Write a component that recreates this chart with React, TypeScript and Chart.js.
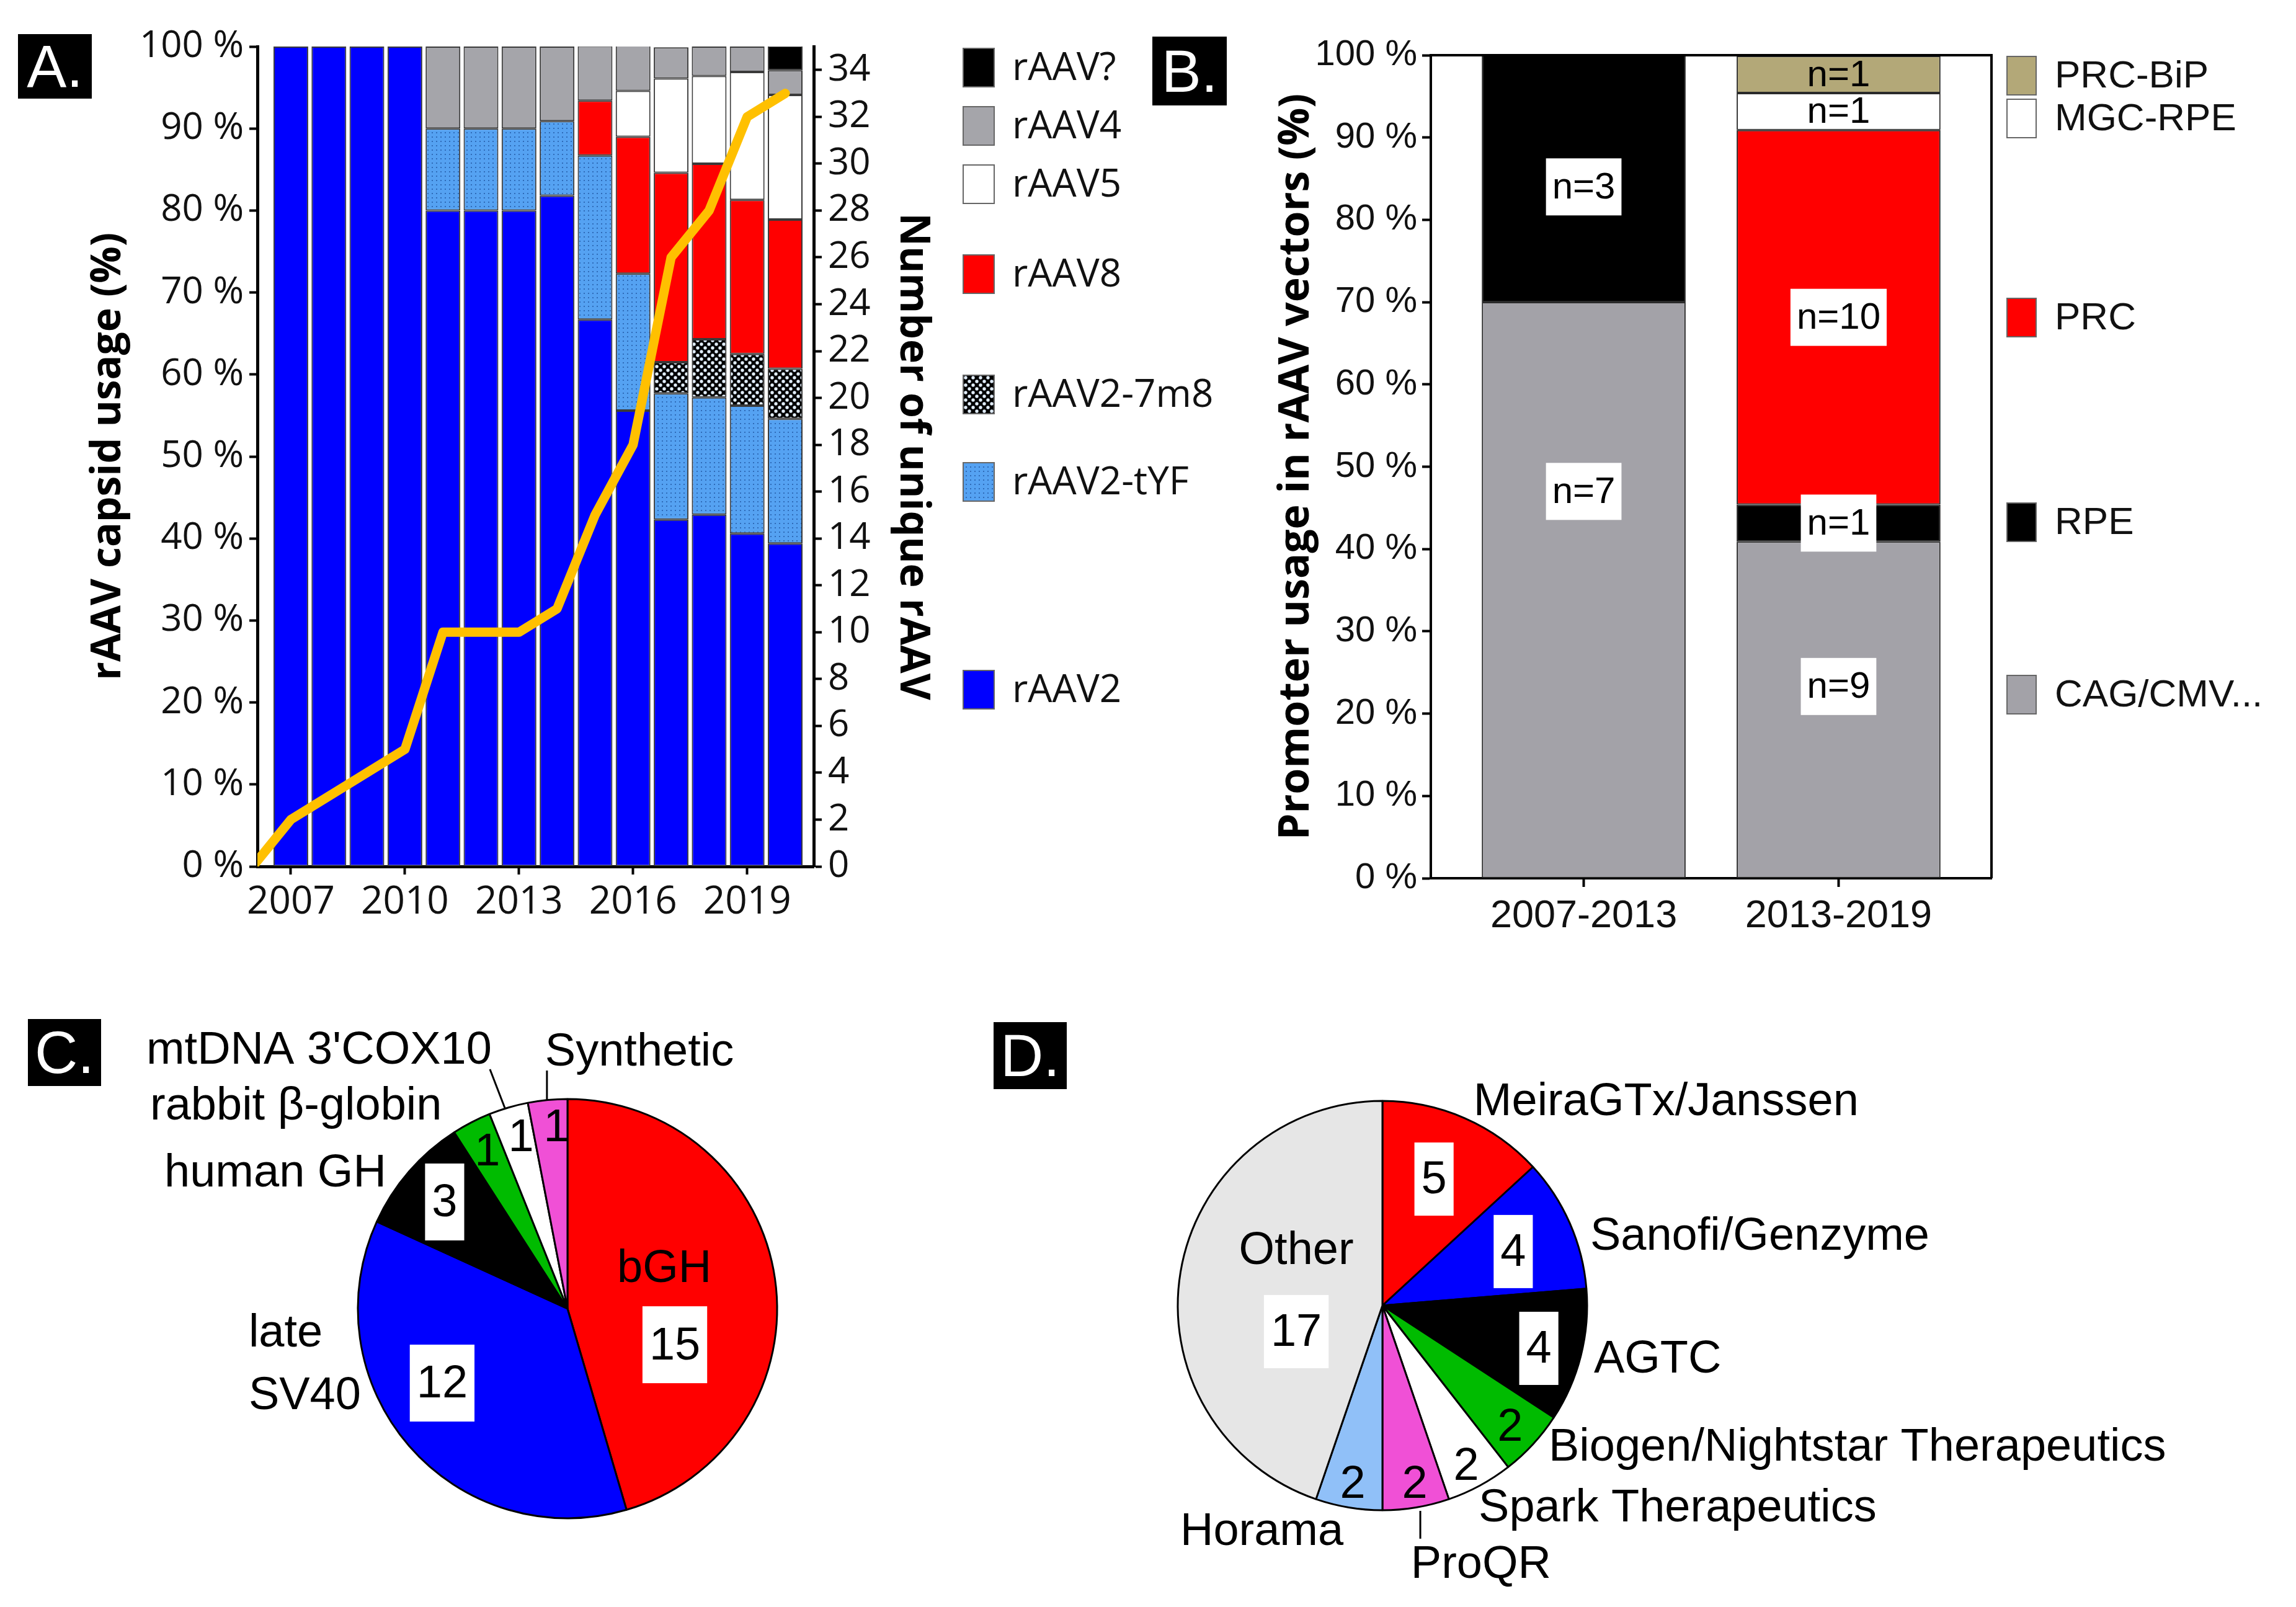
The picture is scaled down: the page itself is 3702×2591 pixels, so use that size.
import React, { useEffect, useRef } from 'react';
import { Chart, registerables } from 'chart.js';

Chart.register(...registerables);

// ---------------- Panel A data ----------------
const YEARS = [2007, 2008, 2009, 2010, 2011, 2012, 2013, 2014, 2015, 2016, 2017, 2018, 2019, 2020];
const RAAV2 = [100, 100, 100, 100, 80, 80, 80, 81.8, 66.7, 55.6, 42.3, 42.9, 40.6, 39.4];
const RAAV2_TYF = [0, 0, 0, 0, 10, 10, 10, 9.1, 20, 16.7, 15.4, 14.3, 15.6, 15.2];
const RAAV2_7M8 = [0, 0, 0, 0, 0, 0, 0, 0, 0, 0, 3.8, 7.1, 6.3, 6.1];
const RAAV8 = [0, 0, 0, 0, 0, 0, 0, 0, 6.7, 16.7, 23.1, 21.4, 18.8, 18.2];
const RAAV5 = [0, 0, 0, 0, 0, 0, 0, 0, 0, 5.6, 11.5, 10.7, 15.6, 15.2];
const RAAV4 = [0, 0, 0, 0, 10, 10, 10, 9.1, 6.7, 5.6, 3.8, 3.6, 3.1, 3.0];
const RAAV_UNKNOWN = [0, 0, 0, 0, 0, 0, 0, 0, 0, 0, 0, 0, 0, 3.0];
const COUNT_YEARS = [2006, 2007, 2008, 2009, 2010, 2011, 2012, 2013, 2014, 2015, 2016, 2017, 2018, 2019, 2020];
const UNIQUE_RAAV = [0, 2, 3, 4, 5, 10, 10, 10, 11, 15, 18, 26, 28, 32, 33];
const A_X_TICKS = [2007, 2010, 2013, 2016, 2019];
const A_Y2_TICKS = [0, 2, 4, 6, 8, 10, 12, 14, 16, 18, 20, 22, 24, 26, 28, 30, 32, 34];

// ---------------- Panel B data ----------------
const PERIODS = ['2007-2013', '2013-2019'];
const B_CAG_CMV = [70, 40.9];
const B_RPE = [30, 4.5];
const B_PRC = [0, 45.5];
const B_MGC_RPE = [0, 4.5];
const B_PRC_BIP = [0, 4.5];
const B_N_CAG = [7, 9];
const B_N_RPE = [3, 1];
const B_N_PRC = [0, 10];
const B_N_MGC = [0, 1];
const B_N_BIP = [0, 1];

// ---------------- Panel C data ----------------
const C_LABELS = ['bGH', 'late SV40', 'human GH', 'rabbit \u03b2-globin', "mtDNA 3'COX10", 'Synthetic'];
const C_VALUES = [15, 12, 3, 1, 1, 1];

// ---------------- Panel D data ----------------
const D_LABELS = ['MeiraGTx/Janssen', 'Sanofi/Genzyme', 'AGTC', 'Biogen/Nightstar Therapeutics', 'Spark Therapeutics', 'ProQR', 'Horama', 'Other'];
const D_VALUES = [5, 4, 4, 2, 2, 2, 2, 17];

// ---------------- styles / layout ----------------
const FONT_A = '"Open Sans", "DejaVu Sans", sans-serif';
const FONT_B = '"Liberation Sans", Arial, sans-serif';

const C_COLORS = ['#FF0000', '#0000FF', '#000000', '#00BB00', '#FFFFFF', '#F050D6'];
const D_COLORS = ['#FF0000', '#0000FF', '#000000', '#00BB00', '#FFFFFF', '#F050D6', '#90C0F8', '#E6E6E6'];

const A_LEGEND_Y = [109, 203, 297, 442, 636, 777, 1112];
const B_LEGEND_Y = [122, 191, 512, 842, 1120];

const C_INNER = [
  { dx: 0.512, dy: 0.172, boxed: true },
  { dx: -0.598, dy: 0.355, boxed: true },
  { dx: -0.586, dy: -0.509, boxed: true },
  { dx: -0.382, dy: -0.754, boxed: false },
  { dx: -0.222, dy: -0.82, boxed: false },
  { dx: -0.053, dy: -0.867, boxed: false },
];
const C_OUTER = [
  { dx: 0.462, dy: -0.189, align: 'center', wrap: false },
  { dx: -1.521, dy: 0.121, align: 'left', wrap: true },
  { dx: -1.923, dy: -0.642, align: 'left', wrap: false },
  { dx: -1.991, dy: -0.962, align: 'left', wrap: false },
  { dx: -2.009, dy: -1.228, align: 'left', wrap: false },
  { dx: -0.107, dy: -1.219, align: 'left', wrap: false },
];
const C_LEADERS = [
  [-0.37, -1.142, -0.299, -0.958],
  [-0.098, -1.136, -0.098, -0.991],
];

const D_INNER = [
  { dx: 0.252, dy: -0.618, boxed: true },
  { dx: 0.639, dy: -0.264, boxed: true },
  { dx: 0.764, dy: 0.209, boxed: true },
  { dx: 0.624, dy: 0.591, boxed: false },
  { dx: 0.409, dy: 0.782, boxed: false },
  { dx: 0.158, dy: 0.867, boxed: false },
  { dx: -0.145, dy: 0.867, boxed: false },
  { dx: -0.421, dy: 0.127, boxed: true },
];
const D_OUTER = [
  { dx: 0.445, dy: -0.991, align: 'left', wrap: false },
  { dx: 1.015, dy: -0.336, align: 'left', wrap: false },
  { dx: 1.033, dy: 0.264, align: 'left', wrap: false },
  { dx: 0.812, dy: 0.697, align: 'left', wrap: false },
  { dx: 0.47, dy: 0.994, align: 'left', wrap: false },
  { dx: 0.139, dy: 1.267, align: 'left', wrap: false },
  { dx: -0.988, dy: 1.109, align: 'left', wrap: false },
  { dx: -0.421, dy: -0.264, align: 'center', wrap: false },
];
const D_LEADERS = [[0.185, 1.003, 0.185, 1.139]];

const PANEL_TAGS = [
  { t: 'A.', left: 29, top: 55, w: 119, h: 104 },
  { t: 'B.', left: 1858, top: 59, w: 120, h: 111 },
  { t: 'C.', left: 45, top: 1643, w: 118, h: 108 },
  { t: 'D.', left: 1602, top: 1648, w: 118, h: 108 },
];

function dotPattern(): CanvasPattern | string {
  const c = document.createElement('canvas');
  c.width = 7; c.height = 7;
  const g = c.getContext('2d');
  if (!g) return '#55A2F2';
  g.fillStyle = '#55A2F2'; g.fillRect(0, 0, 7, 7);
  g.fillStyle = '#2F6BB8'; g.fillRect(3, 3, 2, 2);
  return g.createPattern(c, 'repeat') || '#55A2F2';
}
function checkPattern(): CanvasPattern | string {
  const c = document.createElement('canvas');
  c.width = 12; c.height = 12;
  const g = c.getContext('2d');
  if (!g) return '#000';
  g.fillStyle = '#000'; g.fillRect(0, 0, 12, 12);
  g.fillStyle = '#E2EEFF';
  [[3, 3], [9, 9]].forEach(([x, y]) => { g.beginPath(); g.arc(x, y, 2.7, 0, Math.PI * 2); g.fill(); });
  return g.createPattern(c, 'repeat') || '#000';
}
const nz = (v: number) => (v === 0 ? null : v);

function makeA(): any {
  const tyf = dotPattern();
  const m78 = checkPattern();
  const series = [
    { label: 'rAAV2', data: RAAV2, bg: '#0000FF' },
    { label: 'rAAV2-tYF', data: RAAV2_TYF, bg: tyf },
    { label: 'rAAV2-7m8', data: RAAV2_7M8, bg: m78 },
    { label: 'rAAV8', data: RAAV8, bg: '#FF0000' },
    { label: 'rAAV5', data: RAAV5, bg: '#FFFFFF' },
    { label: 'rAAV4', data: RAAV4, bg: '#A5A5AA' },
    { label: 'rAAV?', data: RAAV_UNKNOWN, bg: '#000000' },
  ];
  const legendOrder = [6, 5, 4, 3, 2, 1, 0];
  const axisCommon = {
    grid: { drawOnChartArea: false, offset: false, tickLength: 13, tickWidth: 4, tickColor: '#000' },
    border: { color: '#000', width: 5 },
  };
  const legendPlugin = {
    id: 'legendA',
    afterDraw(chart: any) {
      const ctx = chart.ctx;
      ctx.save();
      ctx.font = `62px ${FONT_A}`;
      ctx.textBaseline = 'middle';
      ctx.textAlign = 'left';
      legendOrder.forEach((si, k) => {
        const y = A_LEGEND_Y[k];
        ctx.fillStyle = series[si].bg;
        ctx.fillRect(1553, y - 31, 50, 62);
        ctx.strokeStyle = '#666';
        ctx.lineWidth = 2;
        ctx.strokeRect(1553, y - 31, 50, 62);
        ctx.fillStyle = '#111';
        ctx.fillText(series[si].label, 1632, y + 2);
      });
      ctx.restore();
    },
  };
  return {
    data: {
      datasets: [
        {
          type: 'line', label: 'Number of unique rAAV',
          data: COUNT_YEARS.map((x, i) => ({ x, y: UNIQUE_RAAV[i] })),
          yAxisID: 'y2', borderColor: '#FFC000', borderWidth: 15, pointRadius: 0,
          tension: 0, fill: false, order: 0, borderJoinStyle: 'round', borderCapStyle: 'round',
        },
        ...series.map((s) => ({
          type: 'bar', label: s.label,
          data: YEARS.map((x, i) => ({ x, y: nz(s.data[i]) })),
          backgroundColor: s.bg, borderColor: '#3a3a3a', borderWidth: 2, borderSkipped: false,
          barPercentage: 0.913, categoryPercentage: 1, stack: 'a', yAxisID: 'y', order: 1,
        })),
      ],
    },
    options: {
      animation: false, responsive: false, devicePixelRatio: 1,
      layout: { padding: { top: 75, right: 480, left: 0, bottom: 0 } },
      plugins: { legend: { display: false }, tooltip: { enabled: false } },
      scales: {
        x: {
          type: 'linear', min: 2006.12, max: 2020.75, stacked: true, offset: false,
          afterBuildTicks: (s: any) => { s.ticks = A_X_TICKS.map((v) => ({ value: v })); },
          afterFit: (s: any) => { s.height = 143; },
          ticks: { font: { family: FONT_A, size: 62 }, color: '#111', padding: 8, maxRotation: 0, autoSkip: false, callback: (v: any) => String(v) },
          ...axisCommon,
        },
        y: {
          type: 'linear', position: 'left', min: 0, max: 100, stacked: true,
          afterFit: (s: any) => { s.width = 415; },
          ticks: { stepSize: 10, font: { family: FONT_A, size: 60 }, color: '#111', padding: 9, callback: (v: any) => `${v} %` },
          title: { display: true, text: 'rAAV capsid usage (%)', color: '#000', font: { family: FONT_A, size: 66, weight: 'bold' }, padding: { top: 136, bottom: 0 } },
          ...axisCommon,
        },
        y2: {
          type: 'linear', position: 'right', min: 0, max: 35,
          afterBuildTicks: (s: any) => { s.ticks = A_Y2_TICKS.map((v) => ({ value: v })); },
          afterFit: (s: any) => { s.width = 198; },
          ticks: { font: { family: FONT_A, size: 60 }, color: '#111', padding: 10 },
          title: { display: true, text: 'Number of unique rAAV', color: '#000', font: { family: FONT_A, size: 66, weight: 'bold' }, padding: { top: 0, bottom: 0 } },
          ...axisCommon,
        },
      },
    },
    plugins: [legendPlugin],
  };
}

function makeB(): any {
  const series = [
    { label: 'CAG/CMV...', data: B_CAG_CMV, n: B_N_CAG, bg: '#A3A2A8', boxed: true },
    { label: 'RPE', data: B_RPE, n: B_N_RPE, bg: '#000000', boxed: true },
    { label: 'PRC', data: B_PRC, n: B_N_PRC, bg: '#FF0000', boxed: true },
    { label: 'MGC-RPE', data: B_MGC_RPE, n: B_N_MGC, bg: '#FFFFFF', boxed: false },
    { label: 'PRC-BiP', data: B_PRC_BIP, n: B_N_BIP, bg: '#B3A878', boxed: false },
  ];
  const labelAt: Record<string, number> = { '0,0': 47, '0,1': 23.3, '1,0': 84 };
  const legendOrder = [4, 3, 2, 1, 0];
  const plugin = {
    id: 'bExtras',
    afterDatasetsDraw(chart: any) {
      const ctx = chart.ctx;
      const yS = chart.scales.y;
      ctx.save();
      ctx.font = `60px ${FONT_B}`;
      ctx.textBaseline = 'middle';
      ctx.textAlign = 'center';
      series.forEach((s, di) => {
        const meta = chart.getDatasetMeta(di);
        s.n.forEach((n, j) => {
          if (!n) return;
          const el = meta.data[j];
          const key = `${di},${j}`;
          const y = labelAt[key] !== undefined ? yS.getPixelForValue(labelAt[key]) : (el.y + el.base) / 2;
          const t = `n=${n}`;
          if (s.boxed) {
            const w = ctx.measureText(t).width + 20;
            ctx.fillStyle = '#fff';
            ctx.fillRect(el.x - w / 2, y - 46, w, 92);
          }
          ctx.fillStyle = '#000';
          ctx.fillText(t, el.x, y + 2);
        });
      });
      ctx.restore();
    },
    afterDraw(chart: any) {
      const ctx = chart.ctx;
      const a = chart.chartArea;
      ctx.save();
      ctx.strokeStyle = '#000';
      ctx.lineWidth = 4;
      ctx.beginPath();
      ctx.moveTo(a.left, a.top); ctx.lineTo(a.right, a.top); ctx.lineTo(a.right, a.bottom);
      ctx.stroke();
      ctx.font = `62px ${FONT_B}`;
      ctx.textBaseline = 'middle';
      ctx.textAlign = 'left';
      legendOrder.forEach((si, k) => {
        const y = B_LEGEND_Y[k];
        ctx.fillStyle = series[si].bg;
        ctx.fillRect(1236, y - 31, 47, 62);
        ctx.strokeStyle = '#666';
        ctx.lineWidth = 2;
        ctx.strokeRect(1236, y - 31, 47, 62);
        ctx.fillStyle = '#111';
        ctx.fillText(series[si].label, 1313, y + 2);
      });
      ctx.restore();
    },
  };
  const axisCommon = {
    grid: { drawOnChartArea: false, offset: false, tickLength: 14, tickWidth: 4, tickColor: '#000' },
    border: { color: '#000', width: 4 },
  };
  return {
    type: 'bar',
    data: {
      datasets: series.map((s) => ({
        label: s.label,
        data: PERIODS.map((_, i) => ({ x: i, y: nz(s.data[i]) })),
        backgroundColor: s.bg, borderColor: '#2a2a2a', borderWidth: 2, borderSkipped: false,
        barPercentage: 0.8, categoryPercentage: 1, stack: 'b',
      })),
    },
    options: {
      animation: false, responsive: false, devicePixelRatio: 1,
      layout: { padding: { top: 89, right: 491, left: 0, bottom: 0 } },
      plugins: { legend: { display: false }, tooltip: { enabled: false } },
      scales: {
        x: {
          type: 'linear', min: -0.6, max: 1.6, stacked: true, offset: false,
          afterBuildTicks: (s: any) => { s.ticks = PERIODS.map((_, i) => ({ value: i })); },
          afterFit: (s: any) => { s.height = 144; },
          ticks: { font: { family: FONT_B, size: 63 }, color: '#111', padding: 10, maxRotation: 0, autoSkip: false, callback: (v: any) => PERIODS[Math.round(Number(v))] ?? '' },
          ...axisCommon,
        },
        y: {
          type: 'linear', position: 'left', min: 0, max: 100, stacked: true,
          afterFit: (s: any) => { s.width = 307; },
          ticks: { stepSize: 10, font: { family: FONT_B, size: 58 }, color: '#111', padding: 8, callback: (v: any) => `${v} %` },
          title: { display: true, text: 'Promoter usage in rAAV vectors (%)', color: '#000', font: { family: FONT_A, size: 68, weight: 'bold' }, padding: { top: 50, bottom: 0 } },
          ...axisCommon,
        },
      },
    },
    plugins: [plugin],
  };
}

function makePie(values: number[], labels: string[], colors: string[], inner: any[], outer: any[], leaders: number[][], pad: any, boxH: number): any {
  const plugin = {
    id: 'pieText',
    afterDatasetsDraw(chart: any) {
      const arc = chart.getDatasetMeta(0).data[0];
      const cx = arc.x, cy = arc.y, r = arc.outerRadius;
      const ctx = chart.ctx;
      ctx.save();
      ctx.strokeStyle = '#000';
      ctx.lineWidth = 3;
      leaders.forEach(([x1, y1, x2, y2]) => {
        ctx.beginPath();
        ctx.moveTo(cx + x1 * r, cy + y1 * r);
        ctx.lineTo(cx + x2 * r, cy + y2 * r);
        ctx.stroke();
      });
      ctx.font = `74px ${FONT_B}`;
      ctx.textBaseline = 'middle';
      values.forEach((v, i) => {
        const p = inner[i];
        const x = cx + p.dx * r, y = cy + p.dy * r;
        const t = String(v);
        ctx.textAlign = 'center';
        if (p.boxed) {
          const w = ctx.measureText(t).width + 22;
          ctx.fillStyle = '#fff';
          ctx.fillRect(x - w / 2, y - boxH / 2, w, boxH);
        }
        ctx.fillStyle = '#000';
        ctx.fillText(t, x, y + 3);
      });
      labels.forEach((l, i) => {
        const p = outer[i];
        const lines = p.wrap ? l.split(' ') : [l];
        ctx.textAlign = p.align;
        ctx.fillStyle = '#000';
        lines.forEach((ln: string, k: number) => {
          ctx.fillText(ln, cx + p.dx * r, cy + p.dy * r + k * 101);
        });
      });
      ctx.restore();
    },
  };
  return {
    type: 'pie',
    data: {
      labels,
      datasets: [{ data: values, backgroundColor: colors, borderColor: '#000', borderWidth: 3 }],
    },
    options: {
      animation: false, responsive: false, devicePixelRatio: 1,
      layout: { padding: pad },
      plugins: { legend: { display: false }, tooltip: { enabled: false } },
    },
    plugins: [plugin],
  };
}

function ChartCanvas({ left, top, width, height, make }: { left: number; top: number; width: number; height: number; make: () => any }) {
  const ref = useRef<HTMLCanvasElement>(null);
  useEffect(() => {
    if (!ref.current) return;
    const chart = new Chart(ref.current, make());
    return () => chart.destroy();
  }, []);
  return <canvas ref={ref} width={width} height={height} style={{ position: 'absolute', left, top, width, height }} />;
}

export default function App() {
  return (
    <div style={{ position: 'absolute', left: 0, top: 0, width: 3702, height: 2591, background: '#fff', overflow: 'hidden' }}>
      <ChartCanvas left={0} top={0} width={1990} height={1540} make={makeA} />
      <ChartCanvas left={2000} top={0} width={1702} height={1560} make={makeB} />
      <ChartCanvas left={0} top={1560} width={1800} height={1031}
        make={() => makePie(C_VALUES, C_LABELS, C_COLORS, C_INNER, C_OUTER, C_LEADERS, { left: 575.5, top: 210.5, right: 545.5, bottom: 141.5 }, 124)} />
      <ChartCanvas left={1800} top={1560} width={1902} height={1031}
        make={() => makePie(D_VALUES, D_LABELS, D_COLORS, D_INNER, D_OUTER, D_LEADERS, { left: 97.5, top: 213.5, right: 1141.5, bottom: 154.5 }, 118)} />
      {PANEL_TAGS.map((p) => (
        <div key={p.t} style={{
          position: 'absolute', left: p.left, top: p.top, width: p.w, height: p.h, background: '#000', color: '#fff',
          fontFamily: FONT_B, fontSize: 96, lineHeight: `${p.h}px`, textAlign: 'center',
        }}>{p.t}</div>
      ))}
    </div>
  );
}
